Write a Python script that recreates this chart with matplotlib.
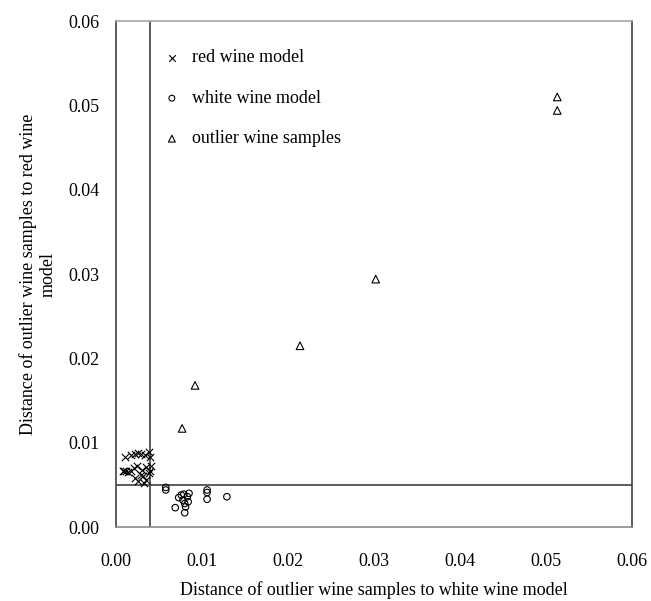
import matplotlib
matplotlib.use("Agg")
import matplotlib.pyplot as plt

plt.rcParams['font.family'] = ['Liberation Serif', 'DejaVu Serif']

# red wine model samples (distance to white model, distance to red model)
red_x = [0.0011, 0.0018, 0.0022, 0.0026, 0.0029, 0.0034, 0.0038, 0.0040,
         0.0008, 0.0010, 0.0012, 0.0014, 0.0017, 0.0021, 0.0025, 0.0030,
         0.0035, 0.0040, 0.0041, 0.0022, 0.0026, 0.0031, 0.0035, 0.0038,
         0.0029, 0.0033]
red_y = [0.0083, 0.0085, 0.0087, 0.0088, 0.0087, 0.0086, 0.0089, 0.0083,
         0.0066, 0.0066, 0.0066, 0.0065, 0.0067, 0.0070, 0.0072, 0.0068,
         0.0071, 0.0066, 0.0073, 0.0058, 0.0055, 0.0060, 0.0056, 0.0064,
         0.0062, 0.0052]

# white wine model samples
white_x = [0.0058, 0.0058, 0.0076, 0.0085, 0.0081, 0.0069, 0.0080, 0.0106,
           0.0106, 0.0106, 0.0129, 0.0073, 0.0078, 0.0083, 0.0080, 0.0084,
           0.0079]
white_y = [0.0047, 0.0044, 0.0038, 0.0040, 0.0024, 0.0023, 0.0017, 0.0044,
           0.0041, 0.0033, 0.0036, 0.0035, 0.0032, 0.0036, 0.0028, 0.0030,
           0.0039]

# outlier wine samples
out_x = [0.0077, 0.0092, 0.0214, 0.0302, 0.0513, 0.0513]
out_y = [0.0117, 0.0168, 0.0215, 0.0294, 0.0510, 0.0494]

# critical distances
crit_x = 0.004
crit_y = 0.005

fig = plt.figure(figsize=(6.51, 6.01), dpi=100)
ax = fig.add_axes([0.178, 0.123, 0.793, 0.842])

ax.scatter(red_x, red_y, marker='x', s=28, c='black', linewidths=0.8,
           label='red wine model', zorder=3)
ax.scatter(white_x, white_y, marker='o', s=22, facecolors='none',
           edgecolors='black', linewidths=0.8, label='white wine model', zorder=3)
ax.scatter(out_x, out_y, marker='^', s=30, facecolors='none',
           edgecolors='black', linewidths=0.8, label='outlier wine samples', zorder=3)

ax.axvline(crit_x, color='#404040', lw=1.2, zorder=2)
ax.axhline(crit_y, color='#404040', lw=1.2, zorder=2)

ax.set_xlim(0, 0.06)
ax.set_ylim(0, 0.06)
ticks = [0.00, 0.01, 0.02, 0.03, 0.04, 0.05, 0.06]
ax.set_xticks(ticks)
ax.set_yticks(ticks)
ax.set_xticklabels(['%.2f' % t for t in ticks])
ax.set_yticklabels(['%.2f' % t for t in ticks])
ax.tick_params(axis='y', length=0, labelsize=13, pad=12)
ax.tick_params(axis='x', length=0, labelsize=13, pad=19)

ax.spines['left'].set_color('#404040')
ax.spines['right'].set_color('#404040')
ax.spines['top'].set_color('#a6a6a6')
ax.spines['bottom'].set_color('#8c8c8c')
for s in ax.spines.values():
    s.set_linewidth(1.2)

ax.set_xlabel('Distance of outlier wine samples to white wine model', fontsize=13, labelpad=8)
ax.set_ylabel('Distance of outlier wine samples to red wine\nmodel', fontsize=13, labelpad=8)

ax.legend(loc='upper left', bbox_to_anchor=(0.056, 0.976), frameon=False,
          fontsize=13, labelspacing=1.3, handlelength=1.2, handletextpad=0.5,
          markerscale=0.9)

fig.savefig('out.png', dpi=100)
